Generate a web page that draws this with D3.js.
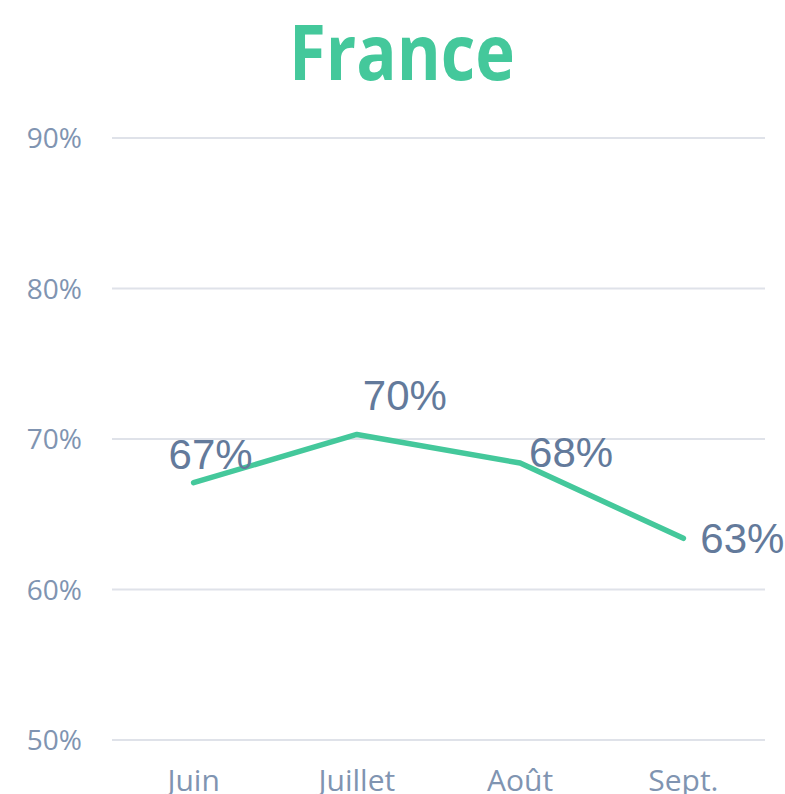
<!DOCTYPE html>
<html>
<head>
<meta charset="utf-8">
<script src="https://cdn.jsdelivr.net/npm/d3@7"></script>
<style>
  body { margin: 0; background: #fff; }
</style>
</head>
<body>
<svg id="chart" width="785" height="794"></svg>
<script>
const months = ["Juin", "Juillet", "Août", "Sept."];
const values = [67.1, 70.3, 68.4, 63.4];
const valueLabels = ["67%", "70%", "68%", "63%"];
const yTicks = [50, 60, 70, 80, 90];
// label nudges (dx, dy) from each point, as placed in the source chart
const labelOffsets = [[17, -14], [48, -24], [51, 4], [59, 15]];

const green = "#44c89b";
const tickColor = "#8094b1";
const labelColor = "#637a9b";

const svg = d3.select("svg#chart");

const x = d3.scaleBand()
  .domain(months)
  .range([112, 765]);

const y = d3.scaleLinear()
  .domain([50, 90])
  .range([740, 138]);

// title
svg.append("text")
  .attr("x", 402)
  .attr("y", 80)
  .attr("text-anchor", "middle")
  .attr("font-family", "Open Sans")
  .attr("font-weight", 700)
  .attr("font-size", 77)
  .attr("textLength", 226)
  .attr("lengthAdjust", "spacingAndGlyphs")
  .attr("fill", green)
  .text("France");

// gridlines
svg.append("g")
  .selectAll("line")
  .data(yTicks)
  .join("line")
  .attr("x1", 112)
  .attr("x2", 765)
  .attr("y1", d => y(d))
  .attr("y2", d => y(d))
  .attr("stroke", "#dfe2e9")
  .attr("stroke-width", 2);

// y tick labels
svg.append("g")
  .selectAll("text")
  .data(yTicks)
  .join("text")
  .attr("x", 82)
  .attr("y", d => y(d) + 10)
  .attr("text-anchor", "end")
  .attr("font-family", "Open Sans")
  .attr("font-size", 28)
  .attr("fill", tickColor)
  .text(d => d + "%");

// x labels (bottom edge clips them, as in the source)
svg.append("g")
  .selectAll("text")
  .data(months)
  .join("text")
  .attr("x", d => x(d) + x.bandwidth() / 2)
  .attr("y", 791)
  .attr("text-anchor", "middle")
  .attr("font-family", "Open Sans")
  .attr("font-size", 30)
  .attr("fill", tickColor)
  .text(d => d);

// line
const pts = months.map((m, i) => [x(m) + x.bandwidth() / 2, y(values[i])]);

svg.append("path")
  .datum(pts)
  .attr("d", d3.line())
  .attr("fill", "none")
  .attr("stroke", green)
  .attr("stroke-width", 5.5)
  .attr("stroke-linecap", "round")
  .attr("stroke-linejoin", "round");

// data labels
svg.append("g")
  .selectAll("text")
  .data(pts)
  .join("text")
  .attr("x", (d, i) => d[0] + labelOffsets[i][0])
  .attr("y", (d, i) => d[1] + labelOffsets[i][1])
  .attr("text-anchor", "middle")
  .attr("font-family", "Liberation Sans, Arial")
  .attr("font-size", 42)
  .attr("fill", labelColor)
  .text((d, i) => valueLabels[i]);
</script>
</body>
</html>
